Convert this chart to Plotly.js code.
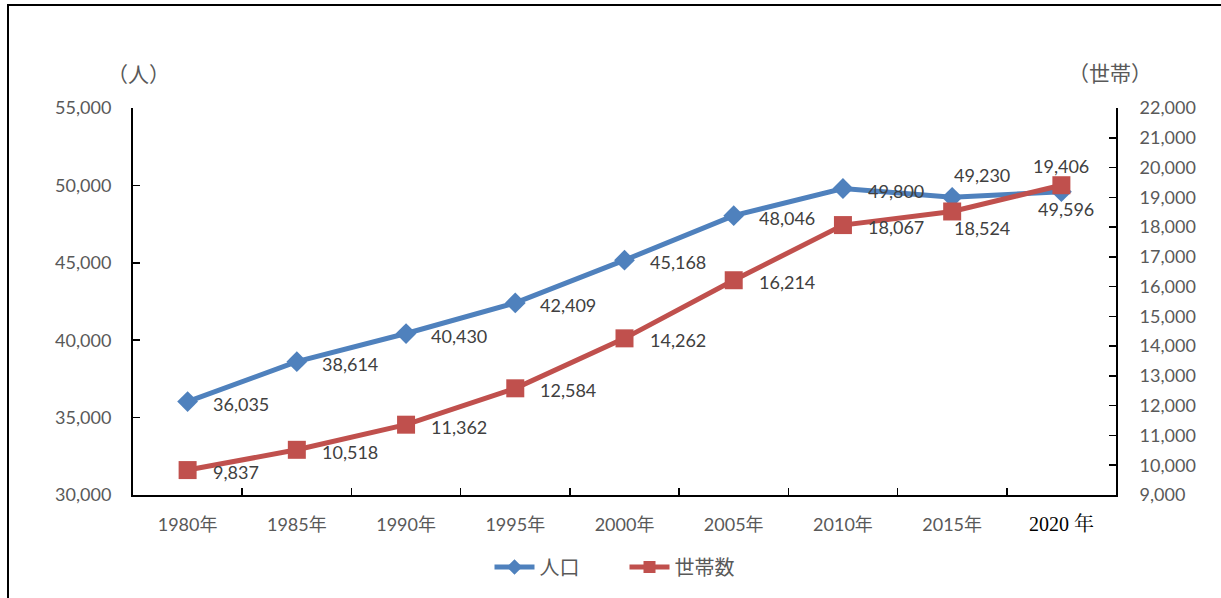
<!DOCTYPE html>
<html>
<head>
<meta charset="utf-8">
<script src="https://cdn.plot.ly/plotly-3.0.1.min.js"></script>
<style>
  html, body { margin: 0; padding: 0; background: #fff; overflow: hidden; }
  #chart { width: 1221px; height: 598px; }
  #frame { position: absolute; left: 7px; top: 4px; width: 1300px; height: 700px;
           border-left: 2px solid #000; border-top: 2px solid #000; pointer-events: none; }
</style>
</head>
<body>
<div id="chart"></div>
<div id="frame"></div>
<script>
// ---- data ----
const categories = ['1980年', '1985年', '1990年', '1995年', '2000年', '2005年', '2010年', '2015年', '2020 年'];
const tickLabels = ['1980年', '1985年', '1990年', '1995年', '2000年', '2005年', '2010年', '2015年',
  '<span style="font-family:\'Liberation Serif\',\'Noto Serif CJK JP\',\'Noto Sans CJK JP\',serif;font-size:20px;fill:#000;color:#000">2020 年</span>'];
const population = [36035, 38614, 40430, 42409, 45168, 48046, 49800, 49230, 49596];
const households = [9837, 10518, 11362, 12584, 14262, 16214, 18067, 18524, 19406];
const popLabelPos = ['r', 'r', 'r', 'r', 'r', 'r', 'r', 'upLeft', 'below'];
const hhLabelPos  = ['r', 'r', 'r', 'r', 'r', 'r', 'r', 'downLeft', 'above'];
const seriesNames = ['人口', '世帯数'];
const leftUnit = '（人）';
const rightUnit = '（世帯）';

const FONT = "Lato, 'Noto Sans CJK JP', sans-serif";
const fmt = v => v.toLocaleString('en-US');

function labelAnn(x, y, pos, yref) {
  const base = { x: x, y: y, xref: 'x', yref: yref, text: fmt(y), showarrow: false,
    font: { family: FONT, size: 18, color: '#404040' }, borderpad: 0 };
  if (pos === 'r') return Object.assign(base, { xanchor: 'left', yanchor: 'middle', xshift: 24, yshift: -2 });
  if (pos === 'upLeft') return Object.assign(base, { xanchor: 'left', yanchor: 'middle', xshift: 1, yshift: 22 });
  if (pos === 'downLeft') return Object.assign(base, { xanchor: 'left', yanchor: 'middle', xshift: 1, yshift: -17 });
  if (pos === 'above') return Object.assign(base, { xanchor: 'center', yanchor: 'middle', xshift: 0, yshift: 19 });
  if (pos === 'below') return Object.assign(base, { xanchor: 'center', yanchor: 'middle', xshift: 5, yshift: -17 });
}

const annotations = [];
categories.forEach((c, i) => {
  annotations.push(labelAnn(c, population[i], popLabelPos[i], 'y'));
  annotations.push(labelAnn(c, households[i], hhLabelPos[i], 'y2'));
});
annotations.push({ text: leftUnit, xref: 'paper', yref: 'paper', x: 0.006, y: 1.09, showarrow: false,
  xanchor: 'center', yanchor: 'middle', font: { family: FONT, size: 21, color: '#595959' } });
annotations.push({ text: rightUnit, xref: 'paper', yref: 'paper', x: 0.994, y: 1.093, showarrow: false,
  xanchor: 'center', yanchor: 'middle', font: { family: FONT, size: 21, color: '#595959' } });

const traces = [
  { x: categories, y: population, name: seriesNames[0], type: 'scatter', mode: 'lines+markers',
    line: { color: '#4F81BD', width: 5 }, marker: { symbol: 'diamond', size: 16, color: '#4F81BD' },
    yaxis: 'y', hoverinfo: 'skip' },
  { x: categories, y: households, name: seriesNames[1], type: 'scatter', mode: 'lines+markers',
    line: { color: '#C0504D', width: 5 }, marker: { symbol: 'square', size: 18, color: '#C0504D' },
    yaxis: 'y2', hoverinfo: 'skip' }
];

const tickFont = { family: FONT, size: 18, color: '#595959' };
const layout = {
  width: 1221, height: 598,
  margin: { l: 133, r: 105, t: 108, b: 103 },
  paper_bgcolor: '#fff', plot_bgcolor: '#fff',
  showlegend: true,
  legend: { orientation: 'h', x: 0.5, xanchor: 'center', y: -0.186, yanchor: 'middle',
    font: { family: FONT, size: 20, color: '#595959' }, traceorder: 'normal', itemsizing: 'constant',
    itemwidth: 40, entrywidth: 80 },
  xaxis: { type: 'category', tickmode: 'array', tickvals: categories, ticktext: tickLabels,
    showline: true, linecolor: '#000', linewidth: 2, mirror: false,
    ticks: 'inside', ticklen: 7, tickwidth: 1.5, tickcolor: '#000', tickson: 'boundaries',
    showgrid: false, zeroline: false, tickfont: tickFont, ticklabelstandoff: 12,
    range: [-0.5, categories.length - 0.5], fixedrange: true },
  yaxis: { range: [30000, 55000], dtick: 5000, tickformat: ',d', showline: true, linecolor: '#000', linewidth: 2,
    ticks: 'inside', ticklen: 7, tickwidth: 1.5, tickcolor: '#000', showgrid: false, zeroline: false,
    tickfont: tickFont, ticklabelstandoff: 16, fixedrange: true },
  yaxis2: { range: [9000, 22000], dtick: 1000, tickformat: ',d', overlaying: 'y', side: 'right',
    showline: true, linecolor: '#000', linewidth: 2, ticks: 'inside', ticklen: 7, tickwidth: 1.5, tickcolor: '#000',
    showgrid: false, zeroline: false, tickfont: tickFont, ticklabelstandoff: 18, fixedrange: true },
  annotations: annotations
};

Plotly.newPlot('chart', traces, layout, { displayModeBar: false, staticPlot: true });
</script>
</body>
</html>
